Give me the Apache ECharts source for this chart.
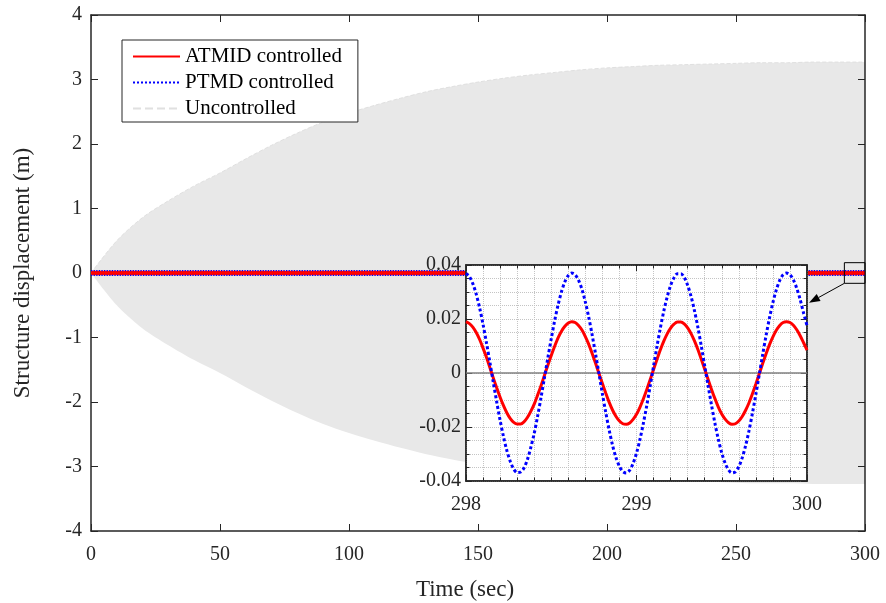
<!DOCTYPE html>
<html><head><meta charset="utf-8">
<script src="https://cdn.jsdelivr.net/npm/echarts@6/dist/echarts.min.js"></script>
<style>html,body{margin:0;padding:0;background:#fff}#c{width:886px;height:603px}</style>
</head><body><div id="c"></div>
<script>
// ---- data ----
const envTime = [0,10,20,30,40,50,60,70,80,90,100,110,120,130,140,150,160,170,180,190,200,210,220,230,240,250,260,270,280,290,300];
const envAmp  = [0,0.50,0.86,1.12,1.35,1.55,1.77,1.98,2.17,2.34,2.48,2.60,2.71,2.81,2.89,2.96,3.02,3.07,3.11,3.15,3.18,3.20,3.22,3.23,3.24,3.25,3.26,3.26,3.27,3.27,3.27];
const mainTime = [0,300];
const atmidMain = [0,0];
const ptmdMainUpper = [0.037,0.037];
const ptmdMainLower = [-0.037,-0.037];
const insetTime = [298.00,298.02,298.04,298.06,298.08,298.10,298.12,298.14,298.16,298.18,298.20,298.22,298.24,298.26,298.28,298.30,298.32,298.34,298.36,298.38,298.40,298.42,298.44,298.46,298.48,298.50,298.52,298.54,298.56,298.58,298.60,298.62,298.64,298.66,298.68,298.70,298.72,298.74,298.76,298.78,298.80,298.82,298.84,298.86,298.88,298.90,298.92,298.94,298.96,298.98,299.00,299.02,299.04,299.06,299.08,299.10,299.12,299.14,299.16,299.18,299.20,299.22,299.24,299.26,299.28,299.30,299.32,299.34,299.36,299.38,299.40,299.42,299.44,299.46,299.48,299.50,299.52,299.54,299.56,299.58,299.60,299.62,299.64,299.66,299.68,299.70,299.72,299.74,299.76,299.78,299.80,299.82,299.84,299.86,299.88,299.90,299.92,299.94,299.96,299.98,300.00];
const atmidInset = [0.0190,0.0183,0.0170,0.0150,0.0124,0.0092,0.0058,0.0020,-0.0018,-0.0055,-0.0090,-0.0121,-0.0148,-0.0169,-0.0183,-0.0189,-0.0189,-0.0181,-0.0165,-0.0142,-0.0115,-0.0082,-0.0047,-0.0009,0.0029,0.0065,0.0099,0.0130,0.0155,0.0173,0.0185,0.0190,0.0187,0.0176,0.0159,0.0135,0.0106,0.0072,0.0036,-0.0002,-0.0039,-0.0075,-0.0109,-0.0138,-0.0161,-0.0178,-0.0188,-0.0190,-0.0185,-0.0172,-0.0153,-0.0127,-0.0096,-0.0062,-0.0025,0.0013,0.0050,0.0086,0.0118,0.0145,0.0166,0.0181,0.0189,0.0189,0.0182,0.0167,0.0146,0.0119,0.0087,0.0051,0.0014,-0.0024,-0.0061,-0.0095,-0.0126,-0.0152,-0.0171,-0.0184,-0.0190,-0.0188,-0.0178,-0.0161,-0.0138,-0.0110,-0.0077,-0.0041,-0.0003,0.0035,0.0071,0.0105,0.0134,0.0158,0.0176,0.0187,0.0190,0.0187,0.0177,0.0160,0.0138,0.0112,0.0085];
const ptmdInset = [0.0369,0.0357,0.0331,0.0292,0.0241,0.0180,0.0112,0.0040,-0.0034,-0.0107,-0.0175,-0.0236,-0.0288,-0.0328,-0.0356,-0.0369,-0.0367,-0.0352,-0.0321,-0.0276,-0.0224,-0.0160,-0.0091,-0.0018,0.0056,0.0127,0.0194,0.0252,0.0301,0.0338,0.0361,0.0370,0.0364,0.0344,0.0310,0.0263,0.0206,0.0141,0.0070,-0.0003,-0.0077,-0.0147,-0.0212,-0.0269,-0.0314,-0.0346,-0.0365,-0.0370,-0.0360,-0.0335,-0.0297,-0.0247,-0.0187,-0.0121,-0.0049,0.0025,0.0098,0.0167,0.0229,0.0282,0.0324,0.0353,0.0368,0.0368,0.0354,0.0325,0.0284,0.0231,0.0169,0.0100,0.0027,-0.0047,-0.0119,-0.0186,-0.0246,-0.0296,-0.0334,-0.0359,-0.0370,-0.0366,-0.0347,-0.0314,-0.0269,-0.0213,-0.0149,-0.0079,-0.0006,0.0068,0.0139,0.0204,0.0261,0.0308,0.0343,0.0364,0.0370,0.0364,0.0345,0.0314,0.0272,0.0222,0.0176];
const zeroTime = [298,300];
const zeroLine = [0,0];
const zoomBoxT = [292,300];
const zoomBoxY = [-0.16,0.16];
const arrowTarget = [300,0.026];

const FONT = 'Liberation Serif';
const TXT = '#262626';
const zip = (a,b) => a.map((v,i)=>[v,b[i]]);

const chart = echarts.init(document.getElementById('c'), null, {renderer:'canvas'});

const mainTickX = {show:true, inside:true, length:7, lineStyle:{color:TXT,width:1}};
const insetMinor = {show:true, splitNumber:10, length:3.5, lineStyle:{color:TXT,width:1}};
const insetMinorY = {show:true, splitNumber:4, length:3.5, lineStyle:{color:TXT,width:1}};
const gridLine = {show:true, lineStyle:{color:'#c4c4c4', type:'dotted', width:1}};

const option = {
  animation:false,
  backgroundColor:'#fff',
  textStyle:{fontFamily:FONT},
  grid:[
    {left:91, right:21, top:15, bottom:72, show:false, containLabel:false, outerBoundsMode:'none'},
    {left:466, width:341, top:265, height:216, show:true, backgroundColor:'#fff', borderColor:TXT, borderWidth:1.5, z:5, containLabel:false, outerBoundsMode:'none'}
  ],
  xAxis:[
    {type:'value', gridIndex:0, position:'bottom', min:0, max:300, interval:50, z:3,
     axisLine:{show:true,onZero:false,lineStyle:{color:TXT,width:1.5}}, axisTick:mainTickX,
     axisLabel:{color:TXT,fontSize:20,fontFamily:FONT,margin:14}, splitLine:{show:false},
     name:'Time (sec)', nameLocation:'middle', nameGap:47,
     nameTextStyle:{color:TXT,fontSize:23,fontFamily:FONT,padding:[0,26,0,0]}},
    {type:'value', gridIndex:0, position:'top', min:0, max:300, interval:50, z:3,
     axisLine:{show:true,onZero:false,lineStyle:{color:TXT,width:1.5}}, axisTick:mainTickX,
     axisLabel:{show:false}, splitLine:{show:false}},
    {type:'value', gridIndex:1, position:'bottom', min:298, max:300, interval:1, z:6,
     axisLine:{show:true,onZero:false,lineStyle:{color:TXT,width:1.5}},
     axisTick:{show:true,inside:true,length:6,lineStyle:{color:TXT}}, minorTick:insetMinor,
     axisLabel:{color:TXT,fontSize:20,fontFamily:FONT,margin:14},
     splitLine:gridLine, minorSplitLine:gridLine},
    {type:'value', gridIndex:1, position:'top', min:298, max:300, interval:1, z:6,
     axisLine:{show:true,onZero:false,lineStyle:{color:TXT,width:1.5}},
     axisTick:{show:true,inside:true,length:6,lineStyle:{color:TXT}}, minorTick:insetMinor,
     axisLabel:{show:false}, splitLine:{show:false}}
  ],
  yAxis:[
    {type:'value', gridIndex:0, position:'left', min:-4, max:4, interval:1, z:3,
     axisLine:{show:true,onZero:false,lineStyle:{color:TXT,width:1.5}}, axisTick:mainTickX,
     axisLabel:{color:TXT,fontSize:20,fontFamily:FONT,margin:9}, splitLine:{show:false},
     name:'Structure displacement (m)', nameLocation:'middle', nameGap:57, nameTextStyle:{color:TXT,fontSize:23,fontFamily:FONT}},
    {type:'value', gridIndex:0, position:'right', min:-4, max:4, interval:1, z:3,
     axisLine:{show:true,onZero:false,lineStyle:{color:TXT,width:1.5}}, axisTick:mainTickX,
     axisLabel:{show:false}, splitLine:{show:false}},
    {type:'value', gridIndex:1, position:'left', min:-0.04, max:0.04, interval:0.02, z:6,
     axisLine:{show:true,onZero:false,lineStyle:{color:TXT,width:1.5}},
     axisTick:{show:true,inside:true,length:6,lineStyle:{color:TXT}}, minorTick:insetMinorY,
     axisLabel:{color:TXT,fontSize:20,fontFamily:FONT,margin:5},
     splitLine:gridLine, minorSplitLine:gridLine},
    {type:'value', gridIndex:1, position:'right', min:-0.04, max:0.04, interval:0.02, z:6,
     axisLine:{show:true,onZero:false,lineStyle:{color:TXT,width:1.5}},
     axisTick:{show:true,inside:true,length:6,lineStyle:{color:TXT}}, minorTick:insetMinorY,
     axisLabel:{show:false}, splitLine:{show:false}}
  ],
  legend:{
    orient:'vertical', left:122, top:40, padding:[6,16,3,10], itemGap:5,
    itemWidth:47, itemHeight:14, backgroundColor:'#fff', borderColor:TXT, borderWidth:1, z:8,
    textStyle:{fontFamily:FONT, fontSize:21, color:'#000'},
    lineStyle:{width:2},
    itemStyle:{opacity:0},
    data:['ATMID controlled','PTMD controlled','Uncontrolled']
  },
  series:[
    {name:'Uncontrolled', type:'line', xAxisIndex:0, yAxisIndex:0, data:zip(envTime,envAmp), smooth:0.3,
     symbol:'none', lineStyle:{width:1,color:'#e0e0e0',type:'dashed'}, itemStyle:{color:'#e0e0e0'}, areaStyle:{color:'#e8e8e8',opacity:1,origin:0}, z:2, silent:true},
    {name:'Uncontrolled', type:'line', xAxisIndex:0, yAxisIndex:0, data:zip(envTime,envAmp.map(v=>-v)), smooth:0.3,
     symbol:'none', lineStyle:{width:0,color:'#e0e0e0'}, itemStyle:{color:'#e0e0e0'}, areaStyle:{color:'#e8e8e8',opacity:1,origin:0}, z:2, silent:true},
    {name:'ATMID controlled', type:'line', xAxisIndex:0, yAxisIndex:0, data:zip(mainTime,atmidMain),
     symbol:'none', lineStyle:{color:'#ff0000',width:4.5,type:'solid'}, itemStyle:{color:'#ff0000'}, z:3},
    {name:'PTMD controlled', type:'line', xAxisIndex:0, yAxisIndex:0, data:zip(mainTime,ptmdMainUpper),
     symbol:'none', lineStyle:{color:'#0000ff',width:1.3,type:'dotted'}, itemStyle:{color:'#0000ff'}, z:3},
    {name:'PTMD controlled', type:'line', xAxisIndex:0, yAxisIndex:0, data:zip(mainTime,ptmdMainLower),
     symbol:'none', lineStyle:{color:'#0000ff',width:1.3,type:'dotted'}, itemStyle:{color:'#0000ff'}, z:3},
    {name:'zero', type:'line', xAxisIndex:2, yAxisIndex:2, data:zip(zeroTime,zeroLine),
     symbol:'none', lineStyle:{color:'#808080',width:1.5}, z:7, silent:true},
    {name:'ATMID controlled', type:'line', xAxisIndex:2, yAxisIndex:2, data:zip(insetTime,atmidInset), smooth:0.3,
     symbol:'none', lineStyle:{color:'#ff0000',width:3}, itemStyle:{color:'#ff0000'}, z:7},
    {name:'PTMD controlled', type:'line', xAxisIndex:2, yAxisIndex:2, data:zip(insetTime,ptmdInset), smooth:0.3,
     symbol:'none', lineStyle:{color:'#0000ff',width:3,type:[3,2.5]}, itemStyle:{color:'#0000ff'}, z:7}
  ]
};
chart.setOption(option);

// zoom box + arrow (annotation positioned via axis scales)
const p0 = chart.convertToPixel({xAxisIndex:0, yAxisIndex:0}, [zoomBoxT[0], zoomBoxY[1]]);
const p1 = chart.convertToPixel({xAxisIndex:0, yAxisIndex:0}, [zoomBoxT[1], zoomBoxY[0]]);
const tgt = chart.convertToPixel({xAxisIndex:2, yAxisIndex:2}, arrowTarget);
const sx = p0[0], sy = p1[1];
const tx = tgt[0] + 2, ty = tgt[1];
const dx = tx - sx, dy = ty - sy, L = Math.hypot(dx,dy), ux = dx/L, uy = dy/L;
const hl = 11, hw = 4;
const bx = tx - ux*hl, by = ty - uy*hl;
chart.setOption({graphic:[
  {type:'rect', z:10, shape:{x:p0[0], y:p0[1], width:p1[0]-p0[0], height:p1[1]-p0[1]}, style:{fill:'none', stroke:'#000', lineWidth:1}},
  {type:'line', z:10, shape:{x1:sx, y1:sy, x2:bx, y2:by}, style:{stroke:'#000', lineWidth:1}},
  {type:'polygon', z:10, shape:{points:[[tx,ty],[bx - uy*hw, by + ux*hw],[bx + uy*hw, by - ux*hw]]}, style:{fill:'#000'}}
]});
</script>
</body></html>
